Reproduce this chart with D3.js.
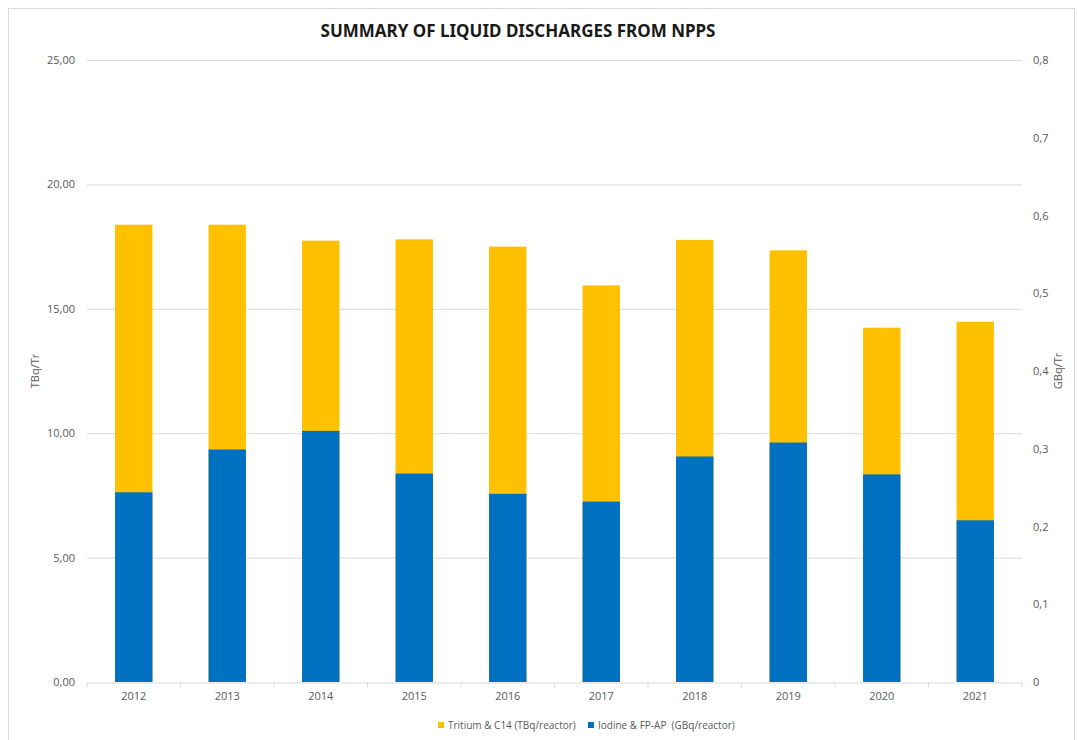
<!DOCTYPE html>
<html>
<head>
<meta charset="utf-8">
<title>Summary of liquid discharges from NPPs</title>
<script src="https://cdn.jsdelivr.net/npm/d3@7"></script>
<style>
  body { margin: 0; background: #fff; }
  svg text { font-family: "Open Sans", "DejaVu Sans", sans-serif; }
  .tick text { fill: #595959; font-size: 11px; }
  .title { font-family: "Noto Sans", "DejaVu Sans", sans-serif; font-weight: bold; font-size: 17px; fill: #1a1a1a; }
</style>
</head>
<body>
<svg id="chart" width="1077" height="740"></svg>
<script>
// data
var years = ["2012","2013","2014","2015","2016","2017","2018","2019","2020","2021"];
var tritium = [18.38, 18.38, 17.74, 17.79, 17.50, 15.94, 17.77, 17.35, 14.24, 14.48]; // TBq/reactor, left axis
var iodine = [0.244, 0.299, 0.323, 0.268, 0.242, 0.232, 0.290, 0.308, 0.267, 0.208];   // GBq/reactor, right axis
var leftTicks = [0, 5, 10, 15, 20, 25];
var rightTicks = [0, 0.1, 0.2, 0.3, 0.4, 0.5, 0.6, 0.7, 0.8];
var seriesNames = ["Tritium & C14 (TBq/reactor)", "Iodine & FP-AP  (GBq/reactor)"];
var colors = ["#ffc000", "#0070c0"];

var svg = d3.select("#chart");
// plot box (window.top is reserved, so pTop)
var pLeft = 87, pRight = 1022, pTop = 60, pBottom = 682;

// frame
svg.append("rect").attr("x", 8.5).attr("y", 8.5).attr("width", 1066).attr("height", 740)
  .attr("fill", "none").attr("stroke", "#d9d9d9");

svg.append("text").attr("class", "title").attr("x", 518).attr("y", 37)
  .attr("text-anchor", "middle").text("SUMMARY OF LIQUID DISCHARGES FROM NPPS");

var x = d3.scaleBand().domain(years).range([pLeft, pRight]).paddingInner(0).paddingOuter(0);
var yL = d3.scaleLinear().domain([0, 25]).range([pBottom, pTop]);
var yR = d3.scaleLinear().domain([0, 0.8]).range([pBottom, pTop]);

// gridlines
svg.append("g").selectAll("line").data(leftTicks.slice(1)).enter().append("line")
  .attr("x1", pLeft).attr("x2", pRight)
  .attr("y1", function(d){ return yL(d) + 0.5; }).attr("y2", function(d){ return yL(d) + 0.5; })
  .attr("stroke", "#d9d9d9").attr("stroke-width", 1);

// left axis
var fmtL = function(d){ return d3.format(".2f")(d).replace(".", ","); };
var gL = svg.append("g").attr("transform", "translate(" + pLeft + ",0)")
  .call(d3.axisLeft(yL).tickValues(leftTicks).tickFormat(fmtL).tickSize(0).tickPadding(12));
gL.select(".domain").remove();

// right axis
var fmtR = function(d){ return d === 0 ? "0" : d3.format(".1f")(d).replace(".", ","); };
var gR = svg.append("g").attr("transform", "translate(" + pRight + ",0)")
  .call(d3.axisRight(yR).tickValues(rightTicks).tickFormat(fmtR).tickSize(0).tickPadding(11));
gR.select(".domain").remove();

// bars: tritium behind, iodine in front
var bw = x.bandwidth() * 0.4;
svg.append("g").selectAll("rect").data(tritium).enter().append("rect")
  .attr("x", function(d, i){ return x(years[i]) + (x.bandwidth() - bw) / 2; })
  .attr("y", function(d){ return yL(d); })
  .attr("width", bw)
  .attr("height", function(d){ return pBottom - yL(d); })
  .attr("fill", colors[0]);
svg.append("g").selectAll("rect").data(iodine).enter().append("rect")
  .attr("x", function(d, i){ return x(years[i]) + (x.bandwidth() - bw) / 2; })
  .attr("y", function(d){ return yR(d); })
  .attr("width", bw)
  .attr("height", function(d){ return pBottom - yR(d); })
  .attr("fill", colors[1]);

// x axis
var gX = svg.append("g").attr("transform", "translate(0," + (pBottom + 0.5) + ")")
  .call(d3.axisBottom(x).tickSize(0).tickPadding(10));
gX.select(".domain").attr("stroke", "#d9d9d9");
gX.selectAll(".tick text").style("font-size", "11px");
gX.selectAll(".edge").data(d3.range(years.length + 1)).enter().append("line")
  .attr("class", "edge")
  .attr("x1", function(d){ return pLeft + d * x.step(); })
  .attr("x2", function(d){ return pLeft + d * x.step(); })
  .attr("y1", 0).attr("y2", 5).attr("stroke", "#d9d9d9");

// axis titles
svg.append("text").attr("transform", "translate(39,371) rotate(-90)")
  .attr("text-anchor", "middle").attr("fill", "#595959").style("font-size", "11px").text("TBq/Tr");
svg.append("text").attr("transform", "translate(1062,371) rotate(-90)")
  .attr("text-anchor", "middle").attr("fill", "#595959").style("font-size", "11px").text("GBq/Tr");

// legend
var legX = [438, 588];
var leg = svg.append("g").selectAll("g").data(seriesNames).enter().append("g")
  .attr("transform", function(d, i){ return "translate(" + legX[i] + ",722)"; });
leg.append("rect").attr("width", 6).attr("height", 6).attr("fill", function(d, i){ return colors[i]; });
leg.append("text").attr("x", 10).attr("y", 7).attr("fill", "#595959").style("font-size", "10px")
  .style("white-space", "pre")
  .text(function(d){ return d; });
</script>
</body>
</html>
